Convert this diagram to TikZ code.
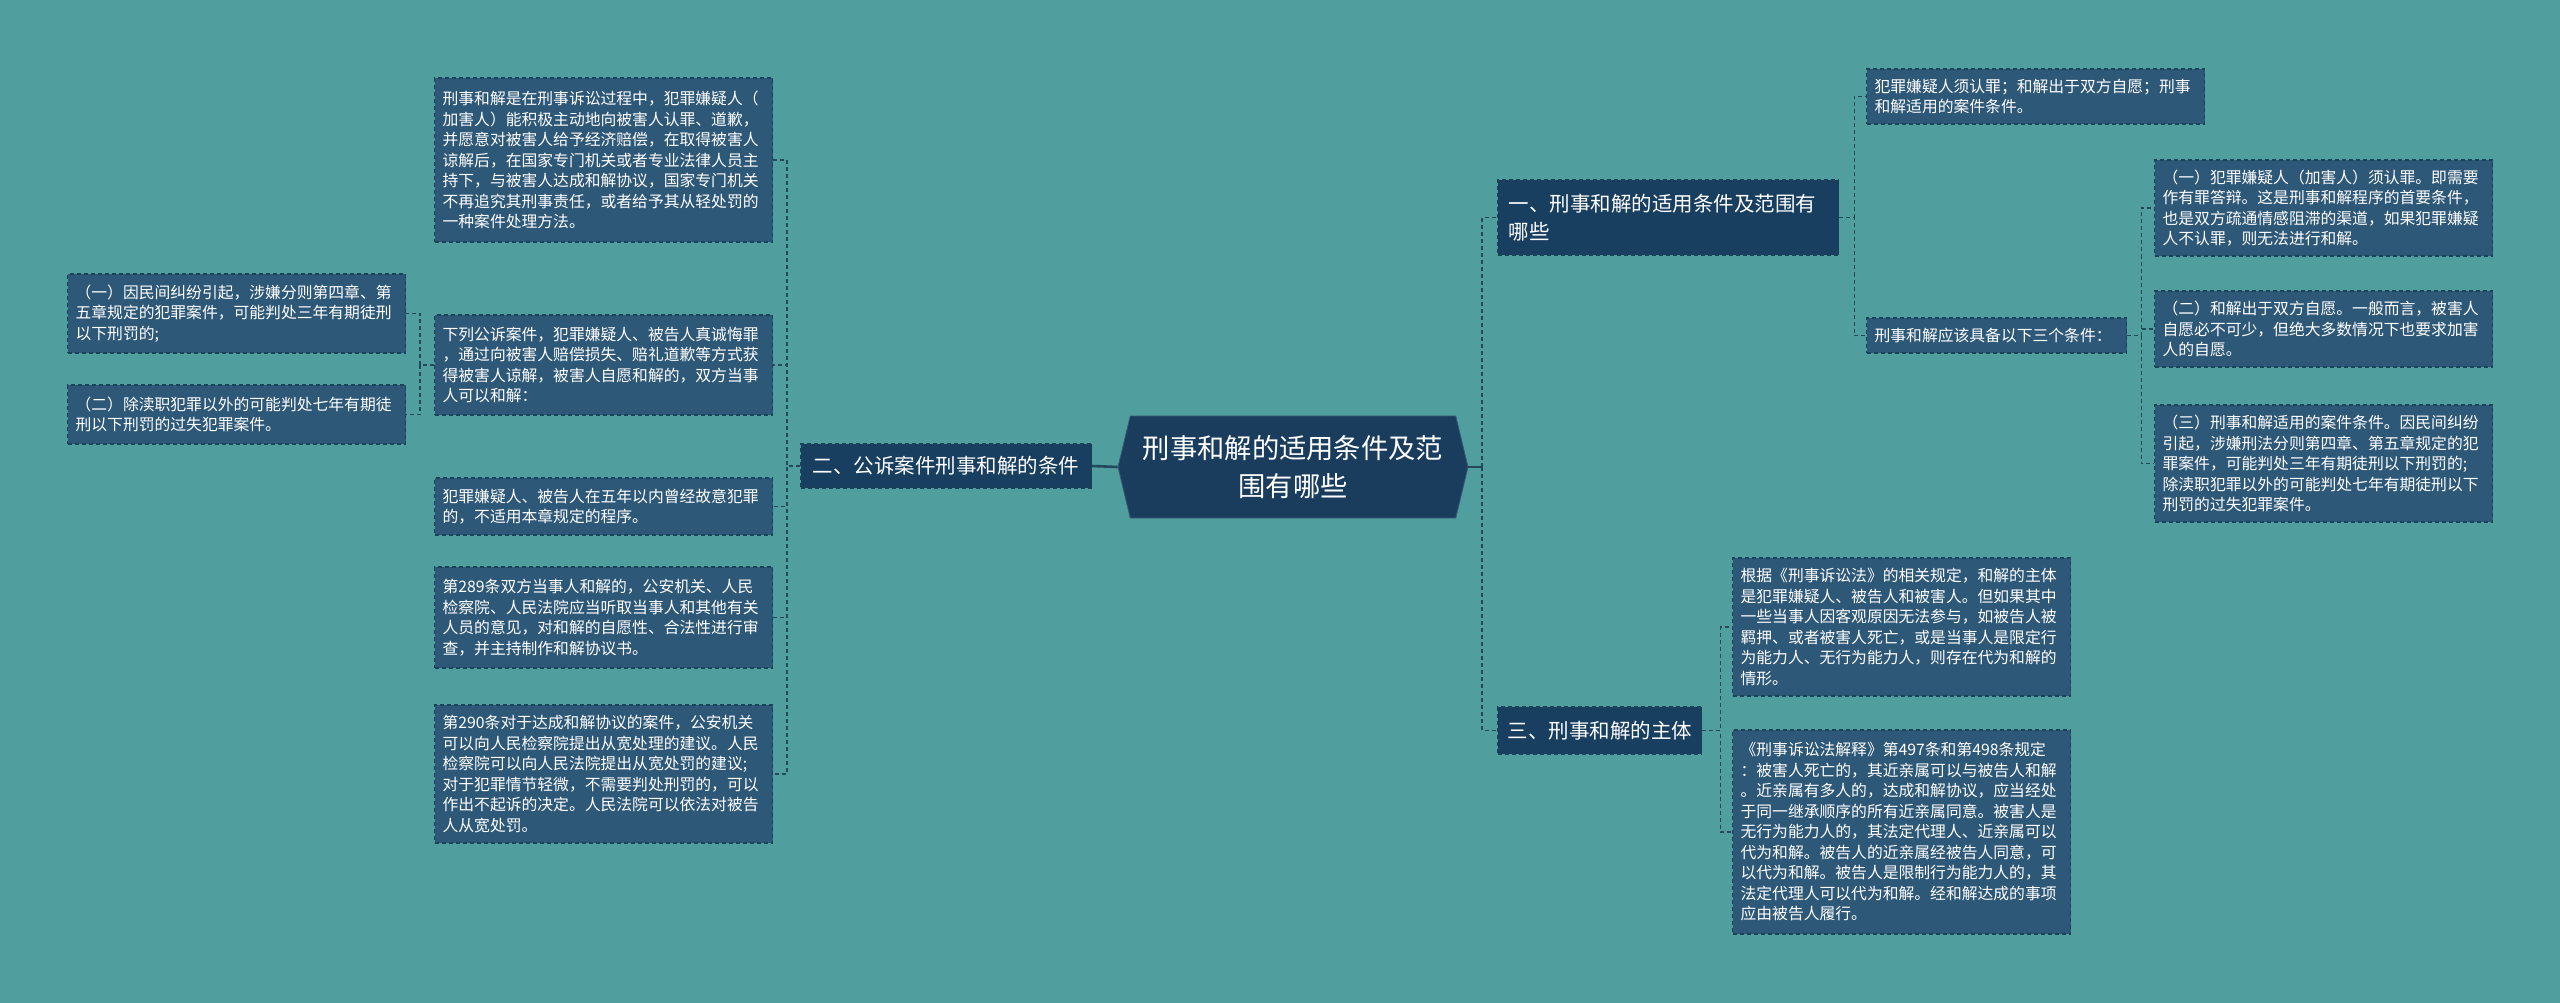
\documentclass[tikz,border=0pt]{standalone}
\usepackage{fontspec}
\setmainfont{Noto Sans CJK SC}
\usetikzlibrary{shapes.symbols}
\definecolor{bgc}{RGB}{80,158,158}
\definecolor{leaffill}{RGB}{46,88,120}
\definecolor{leafline}{RGB}{28,66,90}
\definecolor{lonefill}{RGB}{24,62,96}
\definecolor{rootfill}{RGB}{26,61,94}
\definecolor{connc}{RGB}{36,72,92}
\begin{document}
\begin{tikzpicture}[x=1pt,y=-1pt,
  leaf/.style={draw=leafline, dash pattern=on 4pt off 3pt, line width=1.2pt, fill=leaffill,
    text=white, anchor=west, align=left, inner xsep=8pt, inner ysep=0pt, text width=322pt,
    font=\fontsize{15.8}{20.5}\selectfont},
  lone/.style={draw=leafline, dash pattern=on 4pt off 3pt, line width=1.2pt, fill=lonefill,
    text=white, anchor=west, align=left, inner ysep=0pt,
    font=\fontsize{20.5}{28}\selectfont},
  rootbox/.style={shape=signal, signal to=west and east, signal pointer angle=153,
    fill=rootfill, draw=rootfill!85!white, line width=0.8pt, text=white, align=center,
    minimum width=350pt, minimum height=102pt, inner sep=0pt,
    font=\fontsize{27.3}{37.7}\selectfont},
  conn/.style={draw=connc, line width=1.3pt, dash pattern=on 4pt off 3pt},
  rootconn/.style={draw=connc, line width=2.6pt}
]
\useasboundingbox (0,0) rectangle (2560,1003);
\fill[bgc] (0,0) rectangle (2560,1003);

% root
\node[rootbox] (root) at (1293,467) {刑事和解的适用条件及范\\围有哪些};

% level 1
\node[lone, inner xsep=12pt, text width=267pt, minimum height=44pt] (two) at (800,466) {二、公诉案件刑事和解的条件};
\node[lone, inner xsep=11pt, text width=319pt, minimum height=75pt] (one) at (1497,217.5) {一、刑事和解的适用条件及范围有\\哪些};
\node[lone, inner xsep=10pt, text width=184pt, minimum height=47pt] (three) at (1497,730.5) {三、刑事和解的主体};

% left leaves
\node[leaf, minimum height=164pt] (la) at (434,160) {刑事和解是在刑事诉讼过程中，犯罪嫌疑人（\\加害人）能积极主动地向被害人认罪、道歉，\\并愿意对被害人给予经济赔偿，在取得被害人\\谅解后，在国家专门机关或者专业法律人员主\\持下，与被害人达成和解协议，国家专门机关\\不再追究其刑事责任，或者给予其从轻处罚的\\一种案件处理方法。};
\node[leaf, minimum height=100pt] (lb) at (434,365) {下列公诉案件，犯罪嫌疑人、被告人真诚悔罪\\，通过向被害人赔偿损失、赔礼道歉等方式获\\得被害人谅解，被害人自愿和解的，双方当事\\人可以和解：};
\node[leaf, minimum height=79pt] (lc1) at (67,313.5) {（一）因民间纠纷引起，涉嫌分则第四章、第\\五章规定的犯罪案件，可能判处三年有期徒刑\\以下刑罚的;};
\node[leaf, minimum height=59pt] (lc2) at (67,414.5) {（二）除渎职犯罪以外的可能判处七年有期徒\\刑以下刑罚的过失犯罪案件。};
\node[leaf, minimum height=57pt] (ld) at (434,506.5) {犯罪嫌疑人、被告人在五年以内曾经故意犯罪\\的，不适用本章规定的程序。};
\node[leaf, minimum height=101pt] (le) at (434,617.5) {第289条双方当事人和解的，公安机关、人民\\检察院、人民法院应当听取当事人和其他有关\\人员的意见，对和解的自愿性、合法性进行审\\查，并主持制作和解协议书。};
\node[leaf, minimum height=138pt] (lf) at (434,774) {第290条对于达成和解协议的案件，公安机关\\可以向人民检察院提出从宽处理的建议。人民\\检察院可以向人民法院提出从宽处罚的建议;\\对于犯罪情节轻微，不需要判处刑罚的，可以\\作出不起诉的决定。人民法院可以依法对被告\\人从宽处罚。};

% right leaves under one
\node[leaf, minimum height=55pt] (rg) at (1866,96.5) {犯罪嫌疑人须认罪；和解出于双方自愿；刑事\\和解适用的案件条件。};
\node[leaf, text width=244pt, minimum height=35pt] (rh) at (1866,335.5) {刑事和解应该具备以下三个条件：};
\node[leaf, minimum height=96pt] (ri1) at (2154,208) {（一）犯罪嫌疑人（加害人）须认罪。即需要\\作有罪答辩。这是刑事和解程序的首要条件，\\也是双方疏通情感阻滞的渠道，如果犯罪嫌疑\\人不认罪，则无法进行和解。};
\node[leaf, minimum height=76pt] (ri2) at (2154,329) {（二）和解出于双方自愿。一般而言，被害人\\自愿必不可少，但绝大多数情况下也要求加害\\人的自愿。};
\node[leaf, minimum height=117pt] (ri3) at (2154,463.5) {（三）刑事和解适用的案件条件。因民间纠纷\\引起，涉嫌刑法分则第四章、第五章规定的犯\\罪案件，可能判处三年有期徒刑以下刑罚的;\\除渎职犯罪以外的可能判处七年有期徒刑以下\\刑罚的过失犯罪案件。};

% right leaves under three
\node[leaf, minimum height=138pt] (rj1) at (1732,627) {根据《刑事诉讼法》的相关规定，和解的主体\\是犯罪嫌疑人、被告人和被害人。但如果其中\\一些当事人因客观原因无法参与，如被告人被\\羁押、或者被害人死亡，或是当事人是限定行\\为能力人、无行为能力人，则存在代为和解的\\情形。};
\node[leaf, minimum height=204pt] (rj2) at (1732,832) {《刑事诉讼法解释》第497条和第498条规定\\：被害人死亡的，其近亲属可以与被告人和解\\。近亲属有多人的，达成和解协议，应当经处\\于同一继承顺序的所有近亲属同意。被害人是\\无行为能力人的，其法定代理人、近亲属可以\\代为和解。被告人的近亲属经被告人同意，可\\以代为和解。被告人是限制行为能力人的，其\\法定代理人可以代为和解。经和解达成的事项\\应由被告人履行。};

% connectors
\coordinate (rt) at (1482,467);
\draw[rootconn] (root.west) -- (two.east);
\draw[rootconn] (root.east) -- (rt);
\draw[conn] (rt) |- (one.west);
\draw[conn] (rt) |- (three.west);

\foreach \c in {la,lb,ld,le,lf}{\draw[conn] (two.west) -- ++(-13,0) |- (\c.east);}
\foreach \c in {lc1,lc2}{\draw[conn] (lb.west) -- ++(-14,0) |- (\c.east);}
\foreach \c in {rg,rh}{\draw[conn] (one.east) -- ++(15,0) |- (\c.west);}
\foreach \c in {ri1,ri2,ri3}{\draw[conn] (rh.east) -- ++(14,0) |- (\c.west);}
\foreach \c in {rj1,rj2}{\draw[conn] (three.east) -- ++(18,0) |- (\c.west);}
\end{tikzpicture}
\end{document}
